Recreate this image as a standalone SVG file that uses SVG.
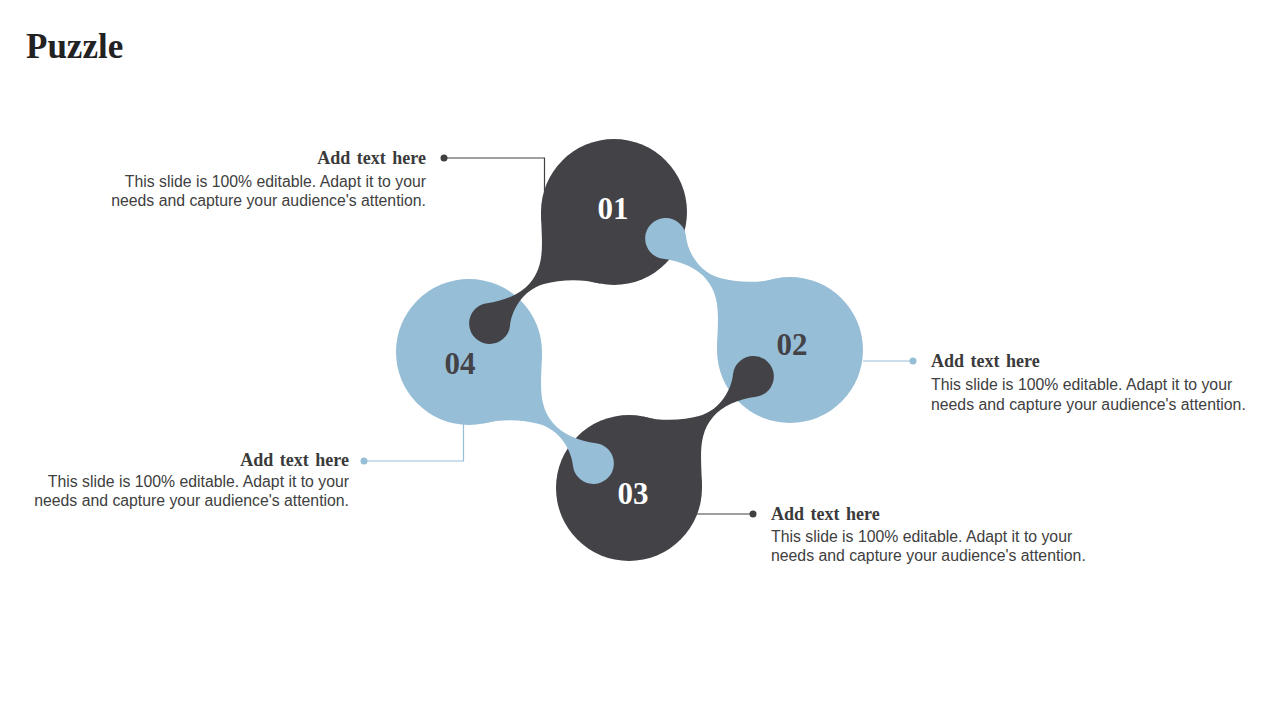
<svg xmlns="http://www.w3.org/2000/svg" xmlns:xlink="http://www.w3.org/1999/xlink" width="1280" height="720" viewBox="0 0 1280 720">
<style>
.dark{fill:#434247}
.light{fill:#97bed7}
.title{font-family:"Liberation Serif","Times New Roman",serif;font-weight:bold;font-size:35px;fill:#222222}
.num{font-family:"Liberation Serif","Times New Roman",serif;font-weight:bold;font-size:31px;text-anchor:middle}
.head{font-family:"Liberation Serif","Times New Roman",serif;font-weight:bold;font-size:18px;word-spacing:2px;fill:#3a3a3a}
.body{font-family:"Liberation Sans",Arial,sans-serif;font-size:15.8px;fill:#404040}
.end{text-anchor:end}
.lnd{stroke:#404040;stroke-width:1.2;fill:none}
.lnl{stroke:#97bed7;stroke-width:1.2;fill:none}
</style>
<defs>
<path id="neck" d="M -73 0 C -72.5 30, -68 52, -84 71 C -93 82, -110 89, -127 91.2 A 20.5 20.5 0 1 0 -104 114 C -103 100, -92 78, -70 72 C -55 68, -34 66, -14 71.6 L 0 0 Z"/>
</defs>
<rect width="1280" height="720" fill="#ffffff"/>
<text class="title" x="26" y="58">Puzzle</text>

<g id="connectors">
<polyline class="lnd" points="444,158 544.5,158 544.5,192"/>
<circle cx="444" cy="158" r="3.5" fill="#404040"/>
<polyline class="lnl" points="863,361 913,361"/>
<circle cx="913" cy="361" r="3.5" fill="#97bed7"/>
<polyline class="lnd" points="697,514 753,514"/>
<circle cx="753" cy="514" r="3.5" fill="#404040"/>
<polyline class="lnl" points="364,461 463.5,461 463.5,424"/>
<circle cx="364" cy="461" r="3.5" fill="#97bed7"/>
</g>

<g id="circles">
<circle class="dark" cx="614" cy="212" r="73"/>
<circle class="light" cx="790" cy="350" r="73"/>
<circle class="dark" cx="629" cy="488" r="73"/>
<circle class="light" cx="469" cy="352" r="73"/>
</g>

<g id="node-01">
<use xlink:href="#neck" href="#neck" class="dark" transform="translate(614,212)"/>
<text class="num" x="613" y="219" fill="#ffffff">01</text>
</g>
<g id="node-02">
<use xlink:href="#neck" href="#neck" class="light" transform="translate(790,350) scale(1,-1)"/>
<text class="num" x="792" y="355" fill="#434247">02</text>
</g>
<g id="node-03">
<use xlink:href="#neck" href="#neck" class="dark" transform="translate(629,488) scale(-1,-1)"/>
<text class="num" x="633" y="504" fill="#ffffff">03</text>
</g>
<g id="node-04">
<use xlink:href="#neck" href="#neck" class="light" transform="translate(469,352) scale(-1,1)"/>
<text class="num" x="460" y="374" fill="#434247">04</text>
</g>

<g id="text-01">
<text class="head end" x="426" y="164">Add text here</text>
<text class="body end" x="426" y="187">This slide is 100% editable. Adapt it to your</text>
<text class="body end" x="426" y="206">needs and capture your audience's attention.</text>
</g>
<g id="text-02">
<text class="head" x="931" y="367">Add text here</text>
<text class="body" x="931" y="390">This slide is 100% editable. Adapt it to your</text>
<text class="body" x="931" y="410">needs and capture your audience's attention.</text>
</g>
<g id="text-03">
<text class="head" x="771" y="520">Add text here</text>
<text class="body" x="771" y="542">This slide is 100% editable. Adapt it to your</text>
<text class="body" x="771" y="561">needs and capture your audience's attention.</text>
</g>
<g id="text-04">
<text class="head end" x="349" y="466">Add text here</text>
<text class="body end" x="349" y="487">This slide is 100% editable. Adapt it to your</text>
<text class="body end" x="349" y="506">needs and capture your audience's attention.</text>
</g>
</svg>
